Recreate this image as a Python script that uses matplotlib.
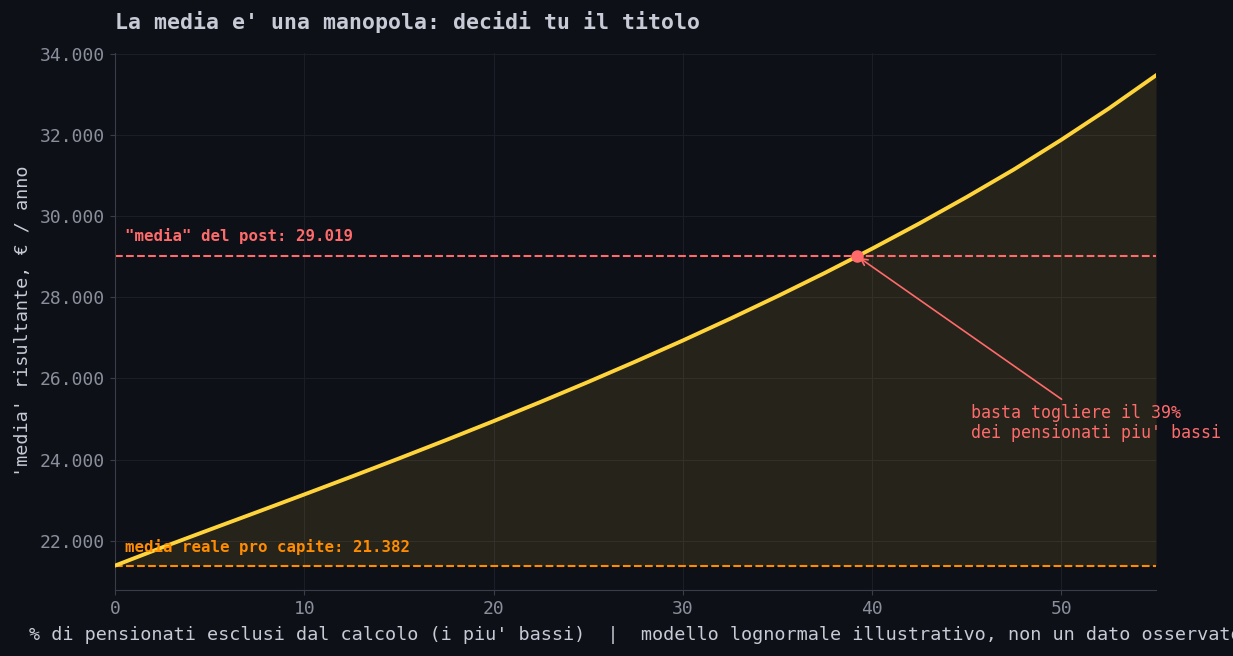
import matplotlib
matplotlib.use("Agg")
import matplotlib.pyplot as plt
from matplotlib.ticker import FuncFormatter

# % of lowest pensioners removed -> resulting "mean" (EUR / year)
esclusi = [0, 2.5, 5, 7.5, 10, 12.5, 15, 17.5, 20, 22.5, 25, 27.5, 30,
           32.5, 35, 37.5, 40, 42.5, 45, 47.5, 50, 52.5, 55]
media = [21382, 21833, 22269, 22702, 23138, 23578, 24026, 24482, 24947,
         25424, 25914, 26418, 26937, 27474, 28029, 28604, 29203, 29826,
         30478, 31159, 31890, 32660, 33480]

media_reale = 21382
media_post = 29019
soglia = 39.2

BG = "#0d1017"
GRID = "#1b1e26"
SPINE = "#3a3d47"
TICK = "#8b8f9b"
TEXT = "#c8cad6"
YELLOW = "#ffd43b"
RED = "#ff6b6b"
ORANGE = "#ff8c00"

plt.rcParams["font.family"] = ["DejaVu Sans Mono", "DejaVu Sans"]

fig = plt.figure(figsize=(12.33, 6.56), dpi=100, facecolor=BG)
ax = fig.add_axes([0.0933, 0.1006, 0.8443, 0.8186])
ax.set_facecolor(BG)

ax.fill_between(esclusi, media, media_reale, color=YELLOW, alpha=0.1, lw=0)
ax.plot(esclusi, media, color=YELLOW, lw=2.8, zorder=3)
ax.axhline(media_post, color=RED, ls="--", lw=1.5, zorder=2)
ax.axhline(media_reale, color=ORANGE, ls="--", lw=1.5, zorder=2)
ax.plot([soglia], [media_post], "o", color=RED, ms=8, zorder=4)

ax.text(0.5, media_post + 300, '"media" del post: 29.019', color=RED,
        fontsize=11.3, fontweight="bold", va="bottom", ha="left")
ax.text(0.5, media_reale + 270, "media reale pro capite: 21.382", color=ORANGE,
        fontsize=11.3, fontweight="bold", va="bottom", ha="left")

ax.annotate("basta togliere il 39%\ndei pensionati piu' bassi",
            xy=(soglia, media_post), xytext=(45.2, 24900),
            color=RED, fontsize=12, ha="left", va="center",
            arrowprops=dict(arrowstyle="->", color=RED, lw=1.2))

ax.set_xlim(0, 55)
ax.set_ylim(20780, 34030)
ax.yaxis.set_major_formatter(FuncFormatter(lambda v, p: f"{v:,.0f}".replace(",", ".")))

ax.grid(True, color=GRID, lw=0.8)
ax.set_axisbelow(True)
for s in ["top", "right"]:
    ax.spines[s].set_visible(False)
for s in ["left", "bottom"]:
    ax.spines[s].set_color(SPINE)
ax.tick_params(colors=SPINE, labelcolor=TICK, labelsize=13)

ax.set_xlabel("% di pensionati esclusi dal calcolo (i piu' bassi)  |  "
              "modello lognormale illustrativo, non un dato osservato",
              color=TEXT, fontsize=13.3, labelpad=6)
ax.set_ylabel("'media' risultante, € / anno", color=TEXT, fontsize=13.3, labelpad=6)
ax.set_title("La media e' una manopola: decidi tu il titolo", color=TEXT,
             fontsize=15.5, fontweight="bold", loc="left", pad=17)

fig.savefig("out.png", facecolor=BG)
